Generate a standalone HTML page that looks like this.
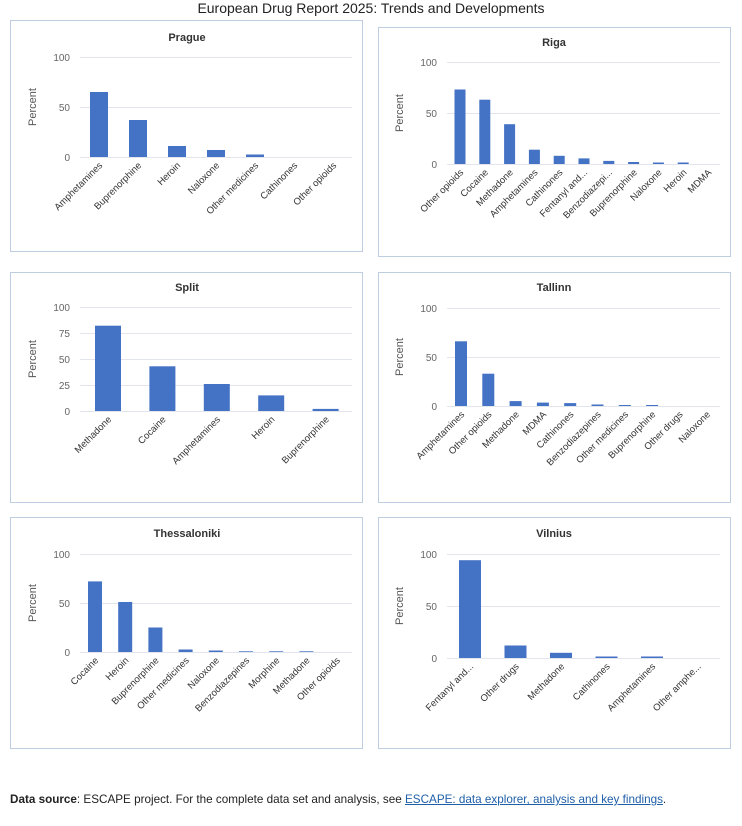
<!DOCTYPE html>
<html><head><meta charset="utf-8"><style>
body{margin:0;background:#fff;width:742px;height:826px;overflow:hidden;font-family:"Liberation Sans",sans-serif}
svg text{font-family:"Liberation Sans",sans-serif}
.t{font-size:11px;font-weight:bold;fill:#333;text-anchor:middle}
.k{font-size:10px;fill:#666;text-anchor:end}
.p{font-size:11px;fill:#555;text-anchor:middle}
.c{font-size:9.5px;fill:#333;text-anchor:end}
.g{stroke:#e2e6ec;stroke-width:1}
.b{fill:#4472c4}
.box{fill:none;stroke:#bfcde0;stroke-width:1}
#foot{position:absolute;left:10px;top:793px;font-size:11.7px;color:#222}
#foot a{color:#1f5fa8;text-decoration:underline}
</style></head><body>
<svg width="742" height="826" style="position:absolute;left:0;top:0">
<text x="371" y="13" style="font-size:14px;fill:#222;text-anchor:middle">European Drug Report 2025: Trends and Developments</text>

<!-- Prague -->
<rect class="box" x="10.5" y="20.5" width="352" height="231"/>
<text class="t" x="187" y="41">Prague</text>
<line class="g" x1="80" x2="352" y1="57.5" y2="57.5"/><line class="g" x1="80" x2="352" y1="107.5" y2="107.5"/><line class="g" x1="80" x2="352" y1="157.5" y2="157.5"/>
<text class="k" x="70" y="61">100</text><text class="k" x="70" y="111">50</text><text class="k" x="70" y="161">0</text>
<text class="p" transform="translate(36,107) rotate(-90)">Percent</text>
<rect class="b" x="90" y="92" width="18" height="65"/><rect class="b" x="129" y="120" width="18" height="37"/><rect class="b" x="168" y="146" width="18" height="11"/><rect class="b" x="207" y="150" width="18" height="7"/><rect class="b" x="246" y="154.5" width="18" height="2.5"/>
<text class="c" transform="translate(103,166) rotate(-45)">Amphetamines</text>
<text class="c" transform="translate(142,166) rotate(-45)">Buprenorphine</text>
<text class="c" transform="translate(181,166) rotate(-45)">Heroin</text>
<text class="c" transform="translate(220,166) rotate(-45)">Naloxone</text>
<text class="c" transform="translate(259,166) rotate(-45)">Other medicines</text>
<text class="c" transform="translate(298,166) rotate(-45)">Cathinones</text>
<text class="c" transform="translate(337,166) rotate(-45)">Other opioids</text>

<!-- Riga -->
<rect class="box" x="378.5" y="27.5" width="352" height="229"/>
<text class="t" x="554" y="46">Riga</text>
<line class="g" x1="447" x2="720" y1="62.5" y2="62.5"/><line class="g" x1="447" x2="720" y1="113.5" y2="113.5"/><line class="g" x1="447" x2="720" y1="164.5" y2="164.5"/>
<text class="k" x="437" y="66">100</text><text class="k" x="437" y="117">50</text><text class="k" x="437" y="168">0</text>
<text class="p" transform="translate(403,113) rotate(-90)">Percent</text>
<rect class="b" x="454.5" y="89.5" width="11" height="74.5"/><rect class="b" x="479.3" y="99.7" width="11" height="64.3"/><rect class="b" x="504.1" y="124.2" width="11" height="39.8"/><rect class="b" x="528.9" y="149.7" width="11" height="14.3"/><rect class="b" x="553.7" y="155.8" width="11" height="8.2"/><rect class="b" x="578.5" y="158.4" width="11" height="5.6"/><rect class="b" x="603.3" y="160.9" width="11" height="3.1"/><rect class="b" x="628.1" y="162" width="11" height="2"/><rect class="b" x="652.9" y="162.5" width="11" height="1.5"/><rect class="b" x="677.7" y="162.5" width="11" height="1.5"/>
<text class="c" transform="translate(464,173) rotate(-45)">Other opioids</text>
<text class="c" transform="translate(488.8,173) rotate(-45)">Cocaine</text>
<text class="c" transform="translate(513.6,173) rotate(-45)">Methadone</text>
<text class="c" transform="translate(538.4,173) rotate(-45)">Amphetamines</text>
<text class="c" transform="translate(563.2,173) rotate(-45)">Cathinones</text>
<text class="c" transform="translate(588,173) rotate(-45)">Fentanyl and...</text>
<text class="c" transform="translate(612.8,173) rotate(-45)">Benzodiazepi...</text>
<text class="c" transform="translate(637.6,173) rotate(-45)">Buprenorphine</text>
<text class="c" transform="translate(662.4,173) rotate(-45)">Naloxone</text>
<text class="c" transform="translate(687.2,173) rotate(-45)">Heroin</text>
<text class="c" transform="translate(712,173) rotate(-45)">MDMA</text>

<!-- Split -->
<rect class="box" x="10.5" y="272.5" width="352" height="230"/>
<text class="t" x="187" y="291">Split</text>
<line class="g" x1="80" x2="352" y1="307.5" y2="307.5"/><line class="g" x1="80" x2="352" y1="333.5" y2="333.5"/><line class="g" x1="80" x2="352" y1="359.5" y2="359.5"/><line class="g" x1="80" x2="352" y1="385.5" y2="385.5"/><line class="g" x1="80" x2="352" y1="411.5" y2="411.5"/>
<text class="k" x="70" y="311">100</text><text class="k" x="70" y="337">75</text><text class="k" x="70" y="363">50</text><text class="k" x="70" y="389">25</text><text class="k" x="70" y="415">0</text>
<text class="p" transform="translate(36,359) rotate(-90)">Percent</text>
<rect class="b" x="95" y="325.7" width="26" height="85.3"/><rect class="b" x="149.4" y="366.3" width="26" height="44.7"/><rect class="b" x="203.8" y="384" width="26" height="27"/><rect class="b" x="258.2" y="395.4" width="26" height="15.6"/><rect class="b" x="312.6" y="408.9" width="26" height="2.1"/>
<text class="c" transform="translate(112,420) rotate(-45)">Methadone</text>
<text class="c" transform="translate(166.4,420) rotate(-45)">Cocaine</text>
<text class="c" transform="translate(220.8,420) rotate(-45)">Amphetamines</text>
<text class="c" transform="translate(275.2,420) rotate(-45)">Heroin</text>
<text class="c" transform="translate(329.6,420) rotate(-45)">Buprenorphine</text>

<!-- Tallinn -->
<rect class="box" x="378.5" y="272.5" width="352" height="230"/>
<text class="t" x="554" y="291">Tallinn</text>
<line class="g" x1="447" x2="720" y1="308.5" y2="308.5"/><line class="g" x1="447" x2="720" y1="357.5" y2="357.5"/><line class="g" x1="447" x2="720" y1="406.5" y2="406.5"/>
<text class="k" x="437" y="312">100</text><text class="k" x="437" y="361">50</text><text class="k" x="437" y="410">0</text>
<text class="p" transform="translate(403,357) rotate(-90)">Percent</text>
<rect class="b" x="455" y="341.3" width="12" height="64.7"/><rect class="b" x="482.3" y="373.7" width="12" height="32.3"/><rect class="b" x="509.6" y="401.1" width="12" height="4.9"/><rect class="b" x="536.9" y="402.6" width="12" height="3.4"/><rect class="b" x="564.2" y="403.1" width="12" height="2.9"/><rect class="b" x="591.5" y="404.5" width="12" height="1.5"/><rect class="b" x="618.8" y="405" width="12" height="1"/><rect class="b" x="646.1" y="405" width="12" height="1"/>
<text class="c" transform="translate(465,415) rotate(-45)">Amphetamines</text>
<text class="c" transform="translate(492.3,415) rotate(-45)">Other opioids</text>
<text class="c" transform="translate(519.6,415) rotate(-45)">Methadone</text>
<text class="c" transform="translate(546.9,415) rotate(-45)">MDMA</text>
<text class="c" transform="translate(574.2,415) rotate(-45)">Cathinones</text>
<text class="c" transform="translate(601.5,415) rotate(-45)">Benzodiazepines</text>
<text class="c" transform="translate(628.8,415) rotate(-45)">Other medicines</text>
<text class="c" transform="translate(656.1,415) rotate(-45)">Buprenorphine</text>
<text class="c" transform="translate(683.4,415) rotate(-45)">Other drugs</text>
<text class="c" transform="translate(710.7,415) rotate(-45)">Naloxone</text>

<!-- Thessaloniki -->
<rect class="box" x="10.5" y="517.5" width="352" height="231"/>
<text class="t" x="187" y="537">Thessaloniki</text>
<line class="g" x1="80" x2="352" y1="554.5" y2="554.5"/><line class="g" x1="80" x2="352" y1="603.5" y2="603.5"/><line class="g" x1="80" x2="352" y1="652.5" y2="652.5"/>
<text class="k" x="70" y="558">100</text><text class="k" x="70" y="607">50</text><text class="k" x="70" y="656">0</text>
<text class="p" transform="translate(36,603) rotate(-90)">Percent</text>
<rect class="b" x="88" y="581.4" width="14" height="70.6"/><rect class="b" x="118.2" y="602" width="14" height="50"/><rect class="b" x="148.4" y="627.5" width="14" height="24.5"/><rect class="b" x="178.6" y="649.5" width="14" height="2.5"/><rect class="b" x="208.8" y="650.5" width="14" height="1.5"/><rect class="b" x="239" y="651.3" width="14" height="0.7"/><rect class="b" x="269.2" y="651.3" width="14" height="0.7"/><rect class="b" x="299.4" y="651.3" width="14" height="0.7"/>
<text class="c" transform="translate(99,661) rotate(-45)">Cocaine</text>
<text class="c" transform="translate(129.2,661) rotate(-45)">Heroin</text>
<text class="c" transform="translate(159.4,661) rotate(-45)">Buprenorphine</text>
<text class="c" transform="translate(189.6,661) rotate(-45)">Other medicines</text>
<text class="c" transform="translate(219.8,661) rotate(-45)">Naloxone</text>
<text class="c" transform="translate(250,661) rotate(-45)">Benzodiazepines</text>
<text class="c" transform="translate(280.2,661) rotate(-45)">Morphine</text>
<text class="c" transform="translate(310.4,661) rotate(-45)">Methadone</text>
<text class="c" transform="translate(340.6,661) rotate(-45)">Other opioids</text>

<!-- Vilnius -->
<rect class="box" x="378.5" y="517.5" width="352" height="231"/>
<text class="t" x="554" y="537">Vilnius</text>
<line class="g" x1="447" x2="720" y1="554.5" y2="554.5"/><line class="g" x1="447" x2="720" y1="606.5" y2="606.5"/><line class="g" x1="447" x2="720" y1="658.5" y2="658.5"/>
<text class="k" x="437" y="558">100</text><text class="k" x="437" y="610">50</text><text class="k" x="437" y="662">0</text>
<text class="p" transform="translate(403,606) rotate(-90)">Percent</text>
<rect class="b" x="459" y="560.2" width="22" height="97.8"/><rect class="b" x="504.5" y="645.5" width="22" height="12.5"/><rect class="b" x="550" y="652.8" width="22" height="5.2"/><rect class="b" x="595.5" y="656.5" width="22" height="1.5"/><rect class="b" x="641" y="656.5" width="22" height="1.5"/>
<text class="c" transform="translate(474,667) rotate(-45)">Fentanyl and...</text>
<text class="c" transform="translate(519.5,667) rotate(-45)">Other drugs</text>
<text class="c" transform="translate(565,667) rotate(-45)">Methadone</text>
<text class="c" transform="translate(610.5,667) rotate(-45)">Cathinones</text>
<text class="c" transform="translate(656,667) rotate(-45)">Amphetamines</text>
<text class="c" transform="translate(701.5,667) rotate(-45)">Other amphe...</text>
</svg>
<div id="foot"><b>Data source</b>: ESCAPE project. For the complete data set and analysis, see <a>ESCAPE: data explorer, analysis and key findings</a>.</div>
</body></html>
